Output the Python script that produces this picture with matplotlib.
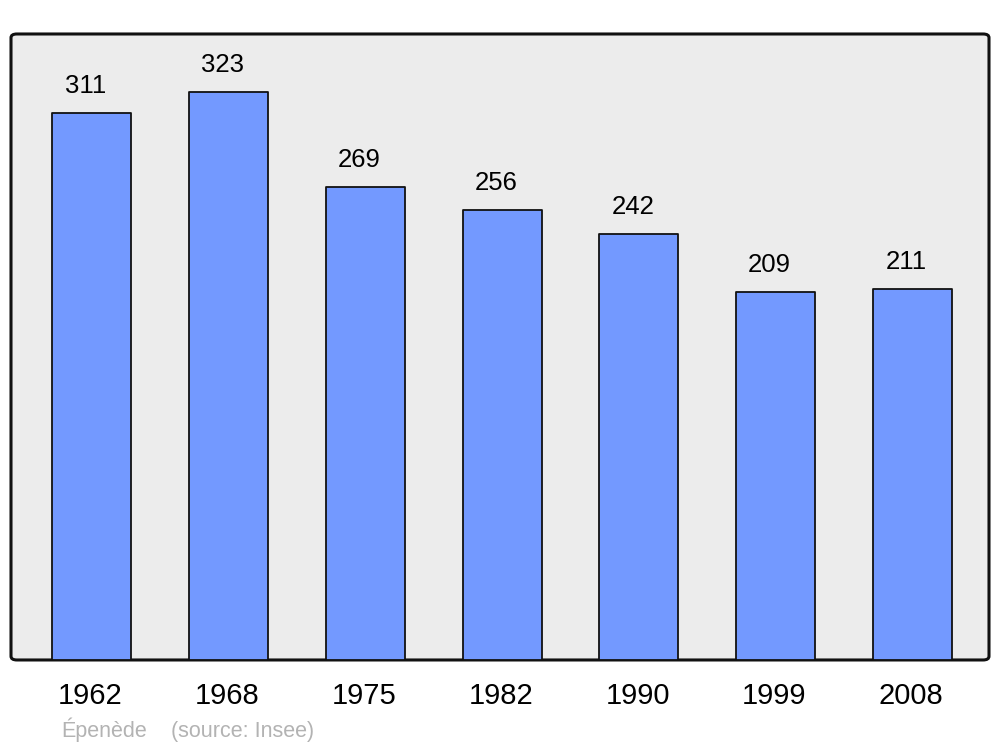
import numpy as np
import matplotlib.pyplot as plt
from matplotlib.patches import FancyBboxPatch

years = ['1962', '1968', '1975', '1982', '1990', '1999', '2008']
population = [311, 323, 269, 256, 242, 209, 211]
commune = 'Épenède'
source = '(source: Insee)'

plt.rcParams['font.family'] = ['Liberation Sans', 'DejaVu Sans']

fig = plt.figure(figsize=(10, 7.47), dpi=100, facecolor='w')
ax = fig.add_axes([0.011, 0.1165, 0.978, 0.838])
ax.set_facecolor('none')

# rounded grey panel behind the bars
panel = FancyBboxPatch((0, 0), 1, 1,
                       boxstyle='round,pad=0,rounding_size=0.006',
                       transform=ax.transAxes, facecolor='#ececec',
                       edgecolor='#111111', linewidth=2.2, zorder=0, clip_on=False)
ax.add_patch(panel)

x = np.arange(len(years))
bars = ax.bar(x, population, width=0.577, color='#7399ff', edgecolor='#111111',
              linewidth=1.3, zorder=2)
for b in bars:
    b.set_joinstyle('round')

for xi, v in zip(x, population):
    ax.annotate(str(v), (xi - 0.045, v), xytext=(0, 19.5), textcoords='offset points',
                ha='center', va='center', fontsize=18.5, color='black')

ax.set_xlim(-0.588, 6.558)
ax.set_ylim(0, 356)
ax.set_xticks([])
ax.set_yticks([])
for s in ax.spines.values():
    s.set_visible(False)

for xi, yr in zip(x, years):
    ax.text(xi - 0.01, -20.5, yr, ha='center', va='center', fontsize=21, color='black')

fig.text(0.061, 0.013, commune, ha='left', va='baseline', fontsize=15.5, color='#b3b3b3')
fig.text(0.171, 0.013, source, ha='left', va='baseline', fontsize=15.5, color='#b3b3b3')

fig.savefig('out.png')
plt.close(fig)
